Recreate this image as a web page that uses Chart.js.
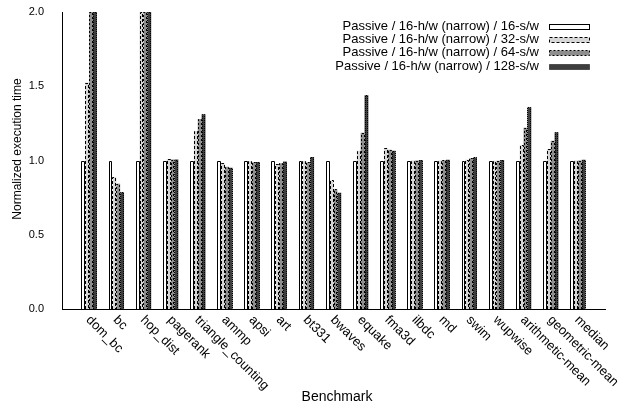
<!DOCTYPE html>
<html>
<head>
<meta charset="utf-8">
<script src="https://cdn.jsdelivr.net/npm/chart.js@4.4.1/dist/chart.umd.min.js"></script>
<style>
  html, body { margin: 0; padding: 0; background: #fff; }
  #wrap { width: 618px; height: 406px; }
</style>
</head>
<body>
<div id="wrap"><canvas id="c" width="618" height="406"></canvas></div>
<script>
const categories = ["dom_bc", "bc", "hop_dist", "pagerank", "triangle_counting", "ammp", "apsi", "art", "bt331", "bwaves", "equake", "fma3d", "ilbdc", "md", "swim", "wupwise", "arithmetic-mean", "geometric-mean", "median"];
const seriesNames = ["Passive / 16-h/w (narrow) / 16-s/w", "Passive / 16-h/w (narrow) / 32-s/w", "Passive / 16-h/w (narrow) / 64-s/w", "Passive / 16-h/w (narrow) / 128-s/w"];
const s16  = [1.0, 1.0, 1.0, 1.0, 1.0, 1.0, 1.0, 1.0, 1.0, 1.0, 1.0, 1.0, 1.0, 1.0, 1.0, 1.0, 1.0, 1.0, 1.0];
const s32  = [1.525, 0.888, 2.0, 1.008, 1.199, 0.981, 0.997, 0.975, 0.997, 0.866, 1.066, 1.084, 1.0, 1.0, 1.005, 0.998, 1.102, 1.075, 1.0];
const s64  = [2.0, 0.844, 2.0, 1.006, 1.279, 0.958, 0.988, 0.982, 0.988, 0.806, 1.187, 1.073, 1.0, 1.003, 1.015, 0.998, 1.221, 1.133, 1.0];
const s128 = [2.0, 0.786, 2.0, 1.006, 1.311, 0.951, 0.99, 0.993, 1.024, 0.783, 1.439, 1.066, 1.003, 1.005, 1.021, 1.003, 1.358, 1.19, 1.005];
const yTicks = [0.0, 0.5, 1.0, 1.5, 2.0];

const FONT = '"Liberation Sans", Arial, Helvetica, sans-serif';
const fills = ["#ffffff", "#d6d6d6", "#8e8e8e", "#3e3e3e"];
const dashes = [[], [3, 2], [2, 2], [1, 1]];
const allSeries = [s16, s32, s64, s128];

const datasets = allSeries.map((vals, k) => ({
  label: seriesNames[k],
  data: vals.map((v, i) => ({ x: i, y: v })),
  backgroundColor: fills[k],
  borderWidth: 0,
  categoryPercentage: 0.57,
  barPercentage: 1.0,
  dashPattern: dashes[k]
}));

const customDraw = {
  id: 'customDraw',
  afterDatasetsDraw(chart) {
    const ctx = chart.ctx;
    const area = chart.chartArea;
    ctx.save();
    ctx.beginPath();
    ctx.rect(area.left, area.top - 1, area.right - area.left, area.bottom - area.top + 1);
    ctx.clip();
    chart.data.datasets.forEach((ds, k) => {
      const meta = chart.getDatasetMeta(k);
      ctx.strokeStyle = '#000';
      ctx.lineWidth = 1;
      ctx.setLineDash(ds.dashPattern);
      meta.data.forEach(bar => {
        const l = Math.round(bar.x - bar.width / 2) + 0.5;
        const r = Math.round(bar.x + bar.width / 2) - 0.5;
        const t = Math.round(bar.y) + 0.5;
        const b = Math.round(bar.base);
        ctx.beginPath();
        ctx.moveTo(l, b);
        ctx.lineTo(l, t);
        ctx.lineTo(r, t);
        ctx.lineTo(r, b);
        ctx.stroke();
      });
    });
    ctx.restore();
  },
  afterDraw(chart) {
    const ctx = chart.ctx;
    const xs = chart.scales.x;
    const area = chart.chartArea;
    ctx.save();
    ctx.fillStyle = '#000';
    // rotated category labels
    ctx.font = '13px ' + FONT;
    ctx.textAlign = 'left';
    ctx.textBaseline = 'middle';
    categories.forEach((name, i) => {
      const px = xs.getPixelForValue(i);
      ctx.save();
      ctx.translate(px - 1, area.bottom + 9);
      ctx.rotate(Math.PI / 4);
      ctx.fillText(name, 0, 0);
      ctx.restore();
    });
    // axis titles
    ctx.font = '14px ' + FONT;
    ctx.textAlign = 'center';
    ctx.textBaseline = 'middle';
    ctx.fillText('Benchmark', 337, 397);
    ctx.save();
    ctx.font = '12px ' + FONT;
    ctx.translate(18, 149);
    ctx.rotate(-Math.PI / 2);
    ctx.fillText('Normalized execution time', 0, 0);
    ctx.restore();
    // legend
    const rowsY = [26, 39.3, 52.6, 66];
    chart.data.datasets.forEach((ds, k) => {
      const y = rowsY[k];
      ctx.font = '13px ' + FONT;
      ctx.textAlign = 'right';
      ctx.textBaseline = 'middle';
      ctx.fillStyle = '#000';
      ctx.fillText(ds.label, 539, y);
      const bx = 549.5, bw = 40, bh = 5;
      const by = Math.round(y - bh / 2) + 0.5;
      ctx.fillStyle = ds.backgroundColor;
      ctx.fillRect(bx, by, bw, bh);
      ctx.strokeStyle = '#000';
      ctx.lineWidth = 1;
      ctx.setLineDash(ds.dashPattern);
      ctx.strokeRect(bx, by, bw, bh);
      ctx.setLineDash([]);
    });
    ctx.restore();
  }
};

new Chart(document.getElementById('c'), {
  type: 'bar',
  data: { datasets },
  options: {
    responsive: false,
    devicePixelRatio: 1,
    animation: false,
    layout: { padding: { top: 12, right: 13, left: 0, bottom: 0 } },
    plugins: { legend: { display: false }, tooltip: { enabled: false } },
    scales: {
      x: {
        type: 'linear',
        min: -1,
        max: 19,
        offset: false,
        grid: { display: false, offset: false },
        border: { display: true, color: '#000', width: 1 },
        ticks: { display: false, stepSize: 1 },
        afterFit: s => { s.height = 97; s.paddingLeft = 0; s.paddingRight = 0; }
      },
      y: {
        min: 0,
        max: 2,
        afterBuildTicks: s => { s.ticks = yTicks.map(v => ({ value: v })); },
        grid: { display: false },
        border: { display: true, color: '#000', width: 1 },
        ticks: {
          padding: 10,
          color: '#000',
          font: { family: FONT, size: 11 },
          callback: v => Number(v).toFixed(1)
        },
        afterFit: s => { s.width = 62; s.paddingTop = 0; s.paddingBottom = 0; }
      }
    }
  },
  plugins: [customDraw]
});
</script>
</body>
</html>
